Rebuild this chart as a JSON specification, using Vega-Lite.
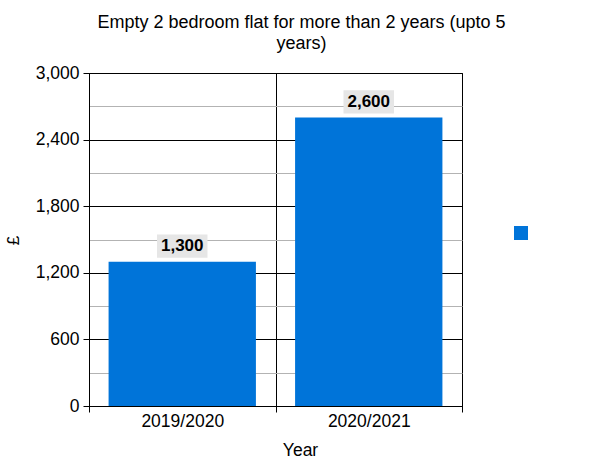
{
  "$schema": "https://vega.github.io/schema/vega-lite/v6.json",
  "width": 373,
  "height": 333,
  "autosize": {"type": "none"},
  "padding": {"left": 89, "top": 73, "right": 138, "bottom": 57},
  "background": "white",
  "config": {
    "font": "Liberation Sans",
    "view": {"stroke": "black", "strokeWidth": 1},
    "axis": {"labelColor": "black", "titleColor": "black", "labelFont": "Liberation Sans", "titleFont": "Liberation Sans"}
  },
  "title": {
    "text": ["Empty 2 bedroom flat for more than 2 years (upto 5", "years)"],
    "fontSize": 18,
    "fontWeight": "normal",
    "font": "Liberation Sans",
    "color": "black",
    "anchor": "middle",
    "frame": "group",
    "dx": 26,
    "baseline": "top",
    "lineHeight": 21.5,
    "offset": 11
  },
  "data": {
    "values": [
      {"year": "2019/2020", "value": 1300, "series": "Amount"},
      {"year": "2020/2021", "value": 2600, "series": "Amount"}
    ]
  },
  "resolve": {"axis": {"y": "independent"}},
  "layer": [
    {
      "mark": {"type": "bar", "width": {"band": 0.79}},
      "encoding": {
        "x": {
          "field": "year", "type": "nominal", "sort": null,
          "scale": {"paddingInner": 0, "paddingOuter": 0},
          "axis": {
            "title": "Year", "tickBand": "extent", "grid": true, "gridColor": "black", "gridOpacity": 1,
            "ticks": true, "tickSize": 6, "tickColor": "black", "domainColor": "black",
            "labelAngle": 0, "labelFontSize": 17.5, "labelPadding": 0,
            "titleFontSize": 17.5, "titleFontWeight": "normal", "titleX": 211, "titleY": 49, "titleBaseline": "alphabetic"
          }
        },
        "y": {
          "field": "value", "type": "quantitative",
          "scale": {"domain": [0, 3000], "nice": false},
          "axis": {
            "orient": "left",
            "values": [0, 600, 1200, 1800, 2400, 3000],
            "labelExpr": "format(datum.value, ',')",
            "grid": true, "gridColor": "black", "gridOpacity": 1,
            "ticks": true, "tickSize": 6, "tickColor": "black", "domainColor": "black",
            "labelFontSize": 17.5, "labelPadding": 4,
            "title": "£", "titleFontSize": 17, "titleFontWeight": "normal",
            "titleX": -71, "titleY": 167, "titleAlign": "center", "titleBaseline": "alphabetic", "titleAngle": -90
          }
        },
        "color": {
          "field": "series", "type": "nominal",
          "scale": {"range": ["#0074d9"]},
          "legend": {
            "title": null, "labelExpr": "''", "orient": "none", "legendX": 425, "legendY": 153,
            "symbolType": "square", "symbolSize": 196, "symbolStrokeWidth": 0, "padding": 0, "symbolOpacity": 1
          }
        }
      }
    },
    {
      "mark": {
        "type": "point",
        "shape": "M-1,-0.46L1,-0.46L1,0.46L-1,0.46Z",
        "size": 2550, "filled": true, "fill": "#e6e6e6", "opacity": 1, "strokeWidth": 0, "yOffset": -15.5
      },
      "encoding": {
        "x": {"field": "year", "type": "nominal", "sort": null},
        "y": {
          "field": "value", "type": "quantitative",
          "axis": {
            "orient": "left",
            "values": [300, 900, 1500, 2100, 2700],
            "grid": true, "gridColor": "#b3b3b3", "gridOpacity": 1,
            "ticks": false, "labels": false, "domain": false, "title": null
          }
        }
      }
    },
    {
      "mark": {"type": "text", "fontSize": 17, "fontWeight": "bold", "font": "Liberation Sans", "color": "black", "baseline": "middle", "yOffset": -15.5},
      "encoding": {
        "x": {"field": "year", "type": "nominal", "sort": null},
        "y": {"field": "value", "type": "quantitative", "axis": null},
        "text": {"field": "value", "type": "quantitative", "format": ","}
      }
    }
  ]
}
